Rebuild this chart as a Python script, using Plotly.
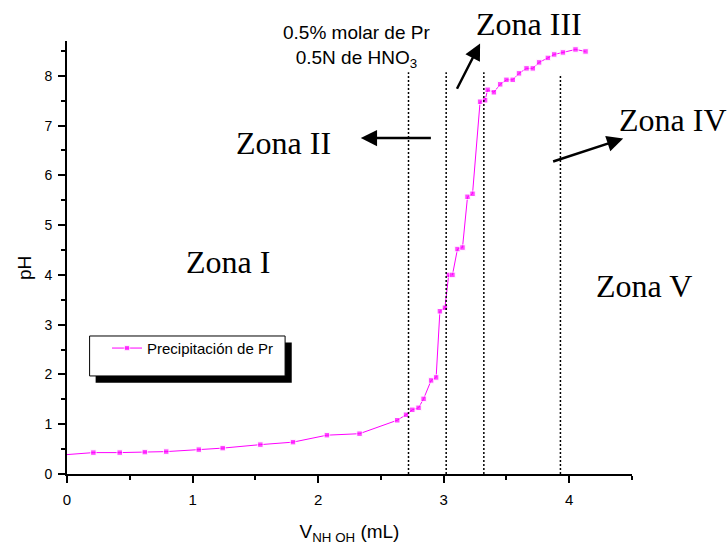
import plotly.graph_objects as go

# ---- data ----
v_ml = [0.0, 0.21, 0.42, 0.62, 0.79, 1.05, 1.24, 1.54, 1.80, 2.07, 2.33, 2.63, 2.70, 2.75,
        2.80, 2.84, 2.90, 2.94, 2.97, 3.01, 3.04, 3.07, 3.11, 3.15, 3.19, 3.23, 3.29, 3.33,
        3.35, 3.40, 3.45, 3.50, 3.55, 3.60, 3.66, 3.71, 3.76, 3.83, 3.88, 3.95, 4.05, 4.13]
ph = [0.39, 0.43, 0.43, 0.44, 0.45, 0.49, 0.52, 0.59, 0.64, 0.78, 0.81, 1.08, 1.19, 1.29,
      1.33, 1.51, 1.88, 1.94, 3.27, 3.34, 4.00, 4.00, 4.52, 4.55, 5.57, 5.63, 7.48, 7.51,
      7.72, 7.67, 7.83, 7.92, 7.92, 8.05, 8.15, 8.15, 8.27, 8.36, 8.43, 8.47, 8.53, 8.49]
series_name = "Precipitación de Pr"

zone_bounds_x = [2.72, 3.02, 3.32, 3.93]
zone_bounds_top = [8.07, 8.07, 8.07, 8.03]

# zone labels in paper coordinates (relative to plot area)
zone_labels = ["Zona I", "Zona II", "Zona III", "Zona IV", "Zona V"]
zone_label_px = [0.2844, 0.3827, 0.8177, 1.0726, 1.0212]
zone_label_py = [0.4885, 0.7644, 1.0395, 0.8185, 0.4333]

# arrows: (head_x, head_y, tail_x, tail_y) in data units
arrow_head_x = [2.34, 3.29, 4.43]
arrow_head_y = [6.75, 8.65, 6.74]
arrow_tail_x = [2.91, 3.10, 3.86]
arrow_tail_y = [6.75, 7.71, 6.27]

note_text = "0.5% molar de Pr<br>0.5N de HNO<sub>3</sub>"
note_px = 0.5130
note_py = 0.9880

x_ticks = [0, 1, 2, 3, 4]
y_ticks = [0, 1, 2, 3, 4, 5, 6, 7, 8]

MAG = "#FF00FF"
SANS = "Liberation Sans, Arial, sans-serif"
SERIF = "Liberation Serif, Times New Roman, serif"

fig = go.Figure()
fig.add_trace(go.Scatter(
    x=v_ml, y=ph, mode="lines+markers", name=series_name,
    line=dict(color=MAG, width=1),
    marker=dict(symbol="square", color=MAG, size=[0] + [5.5] * (len(v_ml) - 1)),
    showlegend=True,
))

shapes = []
# legend box with shadow (data coordinates)
shapes.append(dict(type="rect", xref="x", yref="y", x0=0.228, x1=1.79, y0=1.835, y1=2.64,
                   fillcolor="black", line=dict(width=0), layer="above"))
shapes.append(dict(type="rect", xref="x", yref="y", x0=0.18, x1=1.737, y0=1.97, y1=2.773,
                   fillcolor="white", line=dict(color="black", width=1), layer="above"))
for bx, bt in zip(zone_bounds_x, zone_bounds_top):
    shapes.append(dict(type="line", xref="x", yref="y", x0=bx, x1=bx, y0=0, y1=bt,
                       line=dict(color="black", width=1.5, dash="2px,2px")))

annotations = []
for t, x, y in zip(zone_labels, zone_label_px, zone_label_py):
    annotations.append(dict(text=t, x=x, y=y, xref="paper", yref="paper", showarrow=False,
                            xanchor="center", yanchor="middle",
                            font=dict(family=SERIF, size=32, color="black")))
for hx, hy, tx, ty in zip(arrow_head_x, arrow_head_y, arrow_tail_x, arrow_tail_y):
    annotations.append(dict(text="", x=hx, y=hy, ax=tx, ay=ty, xref="x", yref="y",
                            axref="x", ayref="y", showarrow=True, arrowhead=2,
                            arrowsize=1.3, arrowwidth=2.5, arrowcolor="black"))
annotations.append(dict(text=note_text, x=note_px, y=note_py, xref="paper", yref="paper",
                        showarrow=False, xanchor="center", yanchor="middle",
                        font=dict(family=SANS, size=19, color="black")))
annotations.append(dict(text="pH", x=0, y=(474 - 268) / 433, xref="paper", yref="paper",
                        xanchor="center", yanchor="middle", xshift=24 - 67,
                        showarrow=False, textangle=-90,
                        font=dict(family=SANS, size=19, color="black")))

fig.update_layout(
    width=728, height=546,
    margin=dict(l=67, r=96, t=41, b=72),
    paper_bgcolor="white", plot_bgcolor="white",
    font=dict(family=SANS, color="black"),
    shapes=shapes, annotations=annotations,
    legend=dict(x=(107 - 67) / 565, y=(474 - 348.3) / 433, xanchor="left", yanchor="middle",
                bgcolor="rgba(0,0,0,0)", borderwidth=0,
                font=dict(family=SANS, size=15, color="black")),
    xaxis=dict(range=[0, 4.5], tickvals=x_ticks, ticks="outside", ticklen=7, tickwidth=2,
               tickcolor="black", showline=True, linewidth=2, linecolor="black",
               showgrid=False, zeroline=False, tickfont=dict(family=SANS, size=15),
               ticklabelstandoff=4, automargin=False,
               minor=dict(dtick=0.5, ticks="outside", ticklen=4, tickwidth=2, tickcolor="black"),
               title=dict(text="V<sub>NH OH</sub> (mL)", font=dict(family=SANS, size=19),
                          standoff=18)),
    yaxis=dict(range=[0, 8.7], tickvals=y_ticks, ticks="outside", ticklen=7, tickwidth=2,
               tickcolor="black", showline=True, linewidth=2, linecolor="black",
               showgrid=False, zeroline=False, tickfont=dict(family=SANS, size=14),
               ticklabelstandoff=3, automargin=False,
               minor=dict(dtick=0.5, ticks="outside", ticklen=4, tickwidth=2, tickcolor="black")),
)

fig.write_html("out.html", config={"displayModeBar": False},
               post_script="document.body.style.margin='0';")
